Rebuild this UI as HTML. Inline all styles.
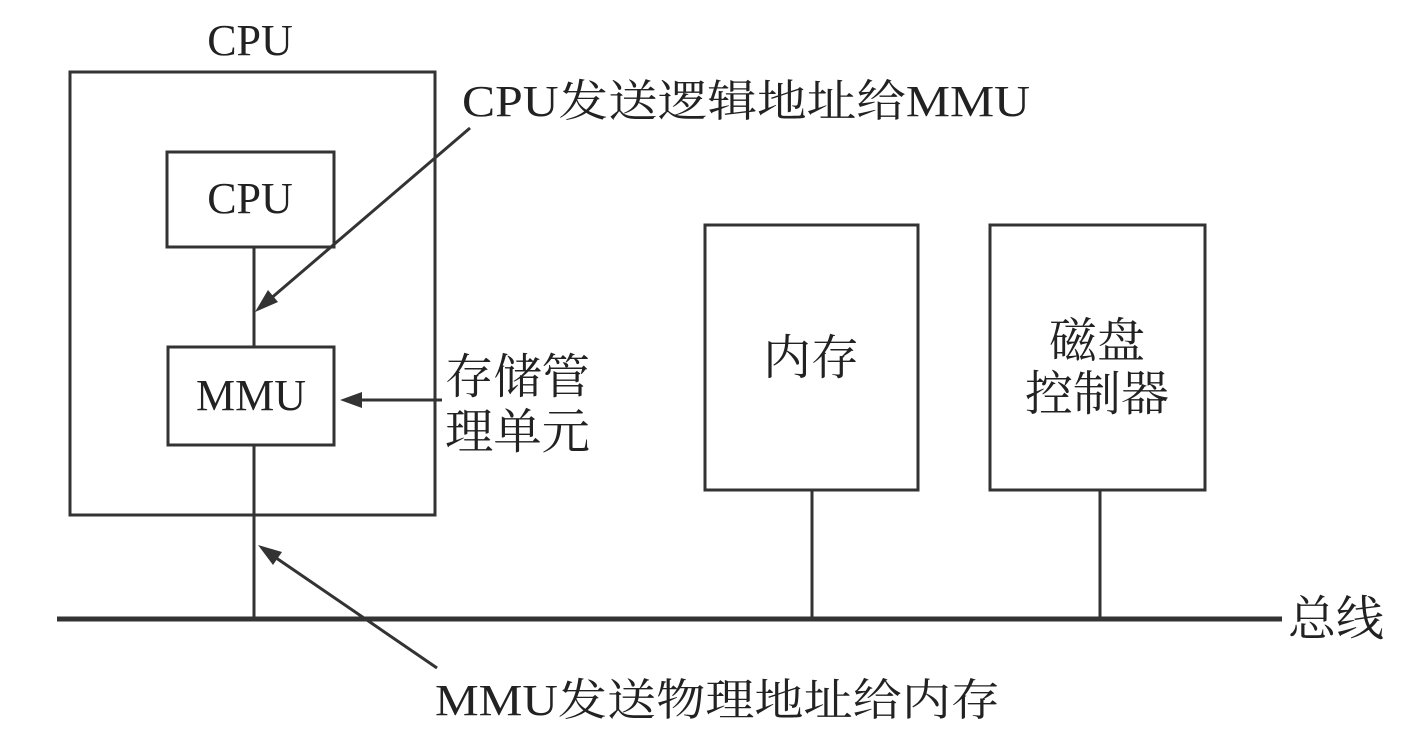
<!DOCTYPE html>
<html><head><meta charset="utf-8"><style>
html,body{margin:0;padding:0;background:#fff;}
svg text{font-family:"Liberation Serif","Noto Serif CJK SC",serif;fill:#222;}
</style></head><body>
<svg width="1422" height="740" viewBox="0 0 1422 740" xmlns="http://www.w3.org/2000/svg">
<g stroke="#333" stroke-width="3" fill="none">
<rect x="70" y="72" width="365" height="443"/>
<rect x="167" y="152" width="167" height="95"/>
<rect x="168" y="347" width="166" height="98"/>
<line x1="254" y1="247" x2="254" y2="347"/>
<line x1="254" y1="445" x2="254" y2="618"/>
<rect x="705" y="225" width="213" height="265"/>
<rect x="990" y="225" width="215" height="265"/>
<line x1="812" y1="490" x2="812" y2="618"/>
<line x1="1100" y1="490" x2="1100" y2="618"/>
<line x1="57" y1="619" x2="1282" y2="619" stroke-width="5"/>
<line x1="470" y1="128" x2="262" y2="306"/>
<line x1="442" y1="400" x2="350" y2="400"/>
<line x1="437" y1="668" x2="266" y2="551"/>
</g>
<g fill="#333">
<polygon points="255,312 268,290 278,302"/>
<polygon points="340,400 362,392 362,408"/>
<polygon points="258,545 282,552 273,565"/>
</g>
<g font-size="44">
<text x="250" y="55" text-anchor="middle">CPU</text>
<text x="250" y="213" text-anchor="middle">CPU</text>
<text x="251" y="410" text-anchor="middle">MMU</text>
<text x="462" y="116" textLength="568" lengthAdjust="spacingAndGlyphs">CPU发送逻辑地址给MMU</text>
<text x="445" y="393" font-size="48" textLength="145" lengthAdjust="spacingAndGlyphs">存储管</text>
<text x="445" y="448" font-size="48" textLength="145" lengthAdjust="spacingAndGlyphs">理单元</text>
<text x="811" y="374" text-anchor="middle" font-size="48">内存</text>
<text x="1097" y="357" text-anchor="middle" font-size="48">磁盘</text>
<text x="1097" y="410" text-anchor="middle" font-size="48">控制器</text>
<text x="1288" y="635" font-size="48">总线</text>
<text x="435" y="715" textLength="565" lengthAdjust="spacingAndGlyphs">MMU发送物理地址给内存</text>
</g>
</svg>
</body></html>
